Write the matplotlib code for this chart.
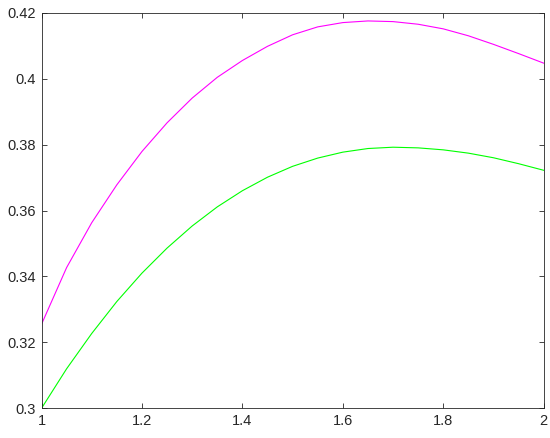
import matplotlib
matplotlib.use('Agg')
import matplotlib.pyplot as plt

plt.rcParams['font.family'] = ['Liberation Sans', 'DejaVu Sans']

# values
x = [1.00, 1.05, 1.10, 1.15, 1.20, 1.25, 1.30, 1.35, 1.40, 1.45, 1.50,
     1.55, 1.60, 1.65, 1.70, 1.75, 1.80, 1.85, 1.90, 1.95, 2.00]
upper = [0.3255, 0.3427, 0.3563, 0.3678, 0.3779, 0.3866, 0.3941, 0.4004,
         0.4055, 0.4098, 0.4133, 0.4157, 0.4170, 0.4175, 0.4173, 0.4165,
         0.4151, 0.4130, 0.4104, 0.4076, 0.4047]
lower = [0.3000, 0.3120, 0.3227, 0.3324, 0.3410, 0.3486, 0.3553, 0.3611,
         0.3660, 0.3701, 0.3734, 0.3759, 0.3777, 0.3788, 0.3792, 0.3790,
         0.3784, 0.3774, 0.3760, 0.3742, 0.3722]

xticks = [1, 1.2, 1.4, 1.6, 1.8, 2]
xlabels = ['1', '1.2', '1.4', '1.6', '1.8', '2']
yticks = [0.3, 0.32, 0.34, 0.36, 0.38, 0.4, 0.42]
ylabels = ['0.3', '0.32', '0.34', '0.36', '0.38', '0.4', '0.42']

fig = plt.figure(figsize=(5.5, 4.38), dpi=100)
ax = fig.add_axes([0.0755, 0.0678, 0.913, 0.9032])

ax.plot(x, upper, color='#ff00ff', lw=0.8)
ax.plot(x, lower, color='#00ff00', lw=0.8)

ax.set_xlim(1, 2)
ax.set_ylim(0.3, 0.42)
ax.set_xticks(xticks)
ax.set_xticklabels(xlabels)
ax.set_yticks(yticks)
ax.set_yticklabels(ylabels)
ax.tick_params(direction='in', top=True, right=True, length=3.5, width=0.6,
               color='#262626', labelcolor='#262626', labelsize=10.5, pad=4)
for s in ax.spines.values():
    s.set_color('#262626')
    s.set_linewidth(0.6)

fig.savefig('out.png', dpi=100)
